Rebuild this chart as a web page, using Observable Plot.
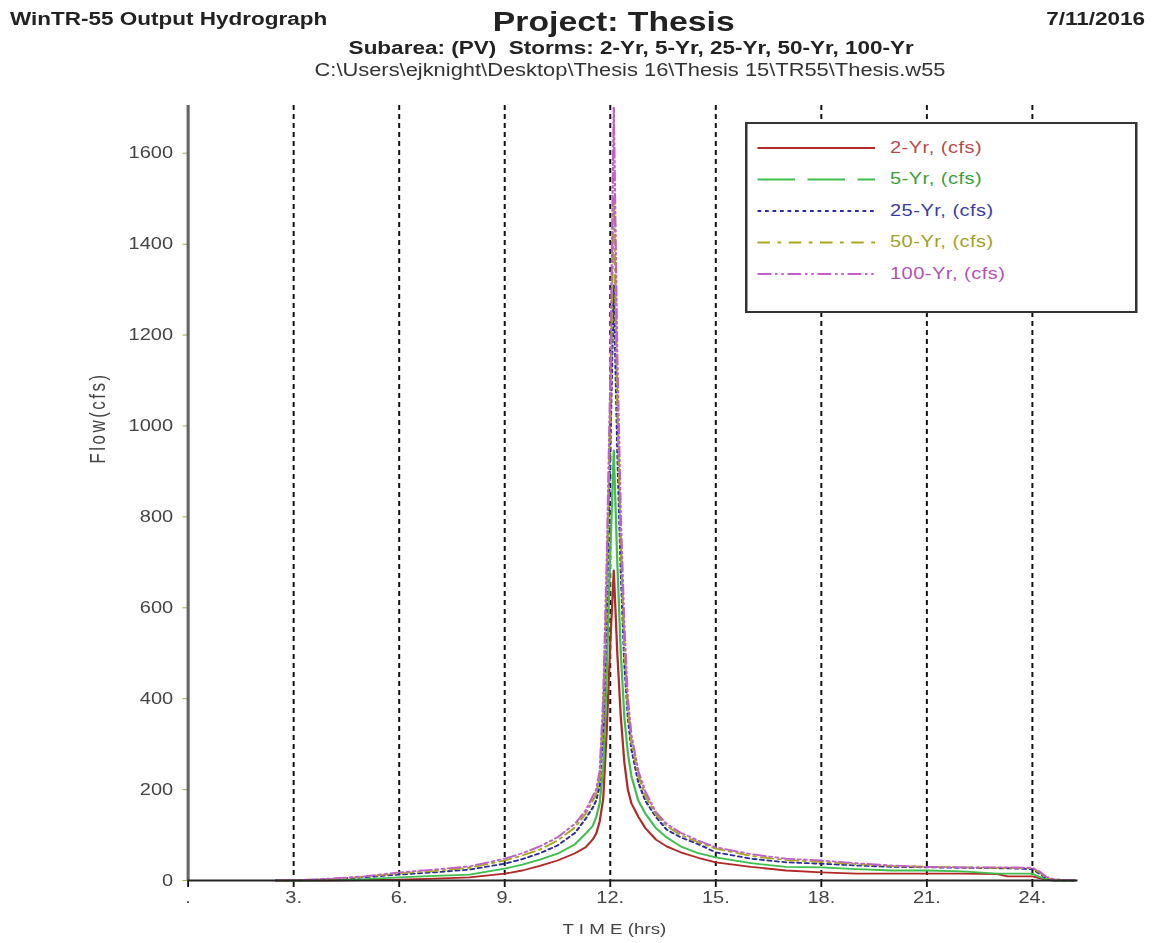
<!DOCTYPE html>
<html>
<head>
<meta charset="utf-8">
<script src="https://cdn.jsdelivr.net/npm/d3@7"></script>
<script src="https://cdn.jsdelivr.net/npm/@observablehq/plot@0.6"></script>
<style>
  html, body { margin: 0; padding: 0; background: #fff; overflow: hidden; }
  #wrap { position: relative; width: 925px; height: 943px; transform: scaleX(1.25); transform-origin: 0 0;
          font-family: "Liberation Sans", Arial, sans-serif; color: #222; }
  .h { position: absolute; white-space: nowrap; line-height: 1; }
  .c { transform: translateX(-50%); }
</style>
</head>
<body>
<div id="wrap">
  <div class="h" style="left:8px;top:10px;font-size:18px;font-weight:bold;">WinTR-55 Output Hydrograph</div>
  <div class="h c" style="left:491px;top:9px;font-size:27px;font-weight:bold;">Project: Thesis</div>
  <div class="h" style="right:9px;top:10px;font-size:18px;font-weight:bold;">7/11/2016</div>
  <div class="h c" style="left:505px;top:39px;font-size:18px;font-weight:bold;">Subarea: (PV)&nbsp;&nbsp;Storms: 2-Yr, 5-Yr, 25-Yr, 50-Yr, 100-Yr</div>
  <div class="h c" style="left:504px;top:62px;font-size:17.5px;color:#333;">C:\Users\ejknight\Desktop\Thesis 16\Thesis 15\TR55\Thesis.w55</div>
  <div id="chart" style="position:absolute;left:0;top:90px;"></div>
  <div id="legend" style="position:absolute;left:596px;top:122px;"></div>
</div>
<script>
// ---- data ----
const hours = [2.5,3,3.5,4, 5,6,7,8,9, 9.5,10,10.5,11,11.3, 11.5,11.6,11.7,11.8,11.9, 12.0,12.1,12.2,12.3,12.4, 12.5,12.6,12.8,13.0,13.3, 13.6,14.0,14.5,15,16, 17,18,19,20,21, 22,23,23.3,24,24.2, 24.4,24.6,25.2];
const q2   = [0,0,0,0, 1,2,4,7,15, 22,32,44,60,73, 90,103,130,180,330, 520,682,500,360,260, 200,170,140,115,90, 75,62,50,40,30, 22,18,15,15,15, 15,14,9,9,5, 2,0,0];
const q5   = [0,0,0,1, 3,7,10,13,26, 35,46,59,80,103, 120,139,170,250,450, 720,946,700,500,360, 280,230,175,147,115, 95,75,60,51,38, 30,29,25,22,22, 20,15,15,15,8, 3,0,0];
const q25  = [0,0,1,3, 7,13,18,24,37, 47,60,77,105,136, 160,176,210,340,600, 950,1310,950,680,480, 360,290,215,175,140, 112,95,80,62,48, 40,37,33,30,29, 28,27,27,25,15, 5,1,0];
const q50  = [0,0,2,3, 8,16,21,28,44, 55,68,88,117,147, 175,190,225,370,650, 1030,1500,1050,740,520, 380,305,230,185,145, 120,100,84,70,54, 45,41,36,32,30, 29,28,28,27,18, 6,2,0];
const q100 = [0,1,2,4, 9,18,24,31,48, 60,75,95,125,154, 185,200,240,400,700, 1100,1700,1150,800,560, 400,320,240,195,150, 125,105,88,73,58, 48,44,38,33,30, 29,29,29,28,20, 8,3,0];

const seriesNames = ["2-Yr, (cfs)", "5-Yr, (cfs)", "25-Yr, (cfs)", "50-Yr, (cfs)", "100-Yr, (cfs)"];
const seriesValues = [q2, q5, q25, q50, q100];
const lineColors = ["#b02a2a", "#3fbf4f", "#2c2c9c", "#a8a81c", "#c060c8"];
const textColors = ["#b84a4a", "#3a9e3a", "#3a3aa6", "#a0a028", "#b050b8"];
const plotDashes = [null, null, "3,3", "10,4,2,4", "10,3,2,3,2,3"];
const legendDashes = [null, "30,10", "3,3", "10,6,3,6", "11,3,2,3,2,3"];

const xTicks = [0, 3, 6, 9, 12, 15, 18, 21, 24];
const gridHours = [3, 6, 9, 12, 15, 18, 21, 24];
const yTicks = [0, 200, 400, 600, 800, 1000, 1200, 1400, 1600];

// ---- chart ----
const lineMarks = seriesValues.map((vals, i) =>
  Plot.line(hours.map((h, j) => ({hour: h, flow: vals[j]})), {
    x: "hour", y: "flow", stroke: lineColors[i], strokeWidth: 1.8,
    strokeDasharray: plotDashes[i] || undefined, curve: "linear"
  })
);

const chart = Plot.plot({
  width: 925,
  height: 853,
  marginLeft: 150,
  marginRight: 63,
  marginTop: 15,
  marginBottom: 63,
  style: {background: "white", fontFamily: "'Liberation Sans', Arial, sans-serif", fontSize: "16px", color: "#444"},
  x: {domain: [0, 25.3], axis: null},
  y: {domain: [0, 1705], axis: null},
  marks: [
    Plot.ruleX(gridHours, {stroke: "#111", strokeWidth: 1.6, strokeDasharray: "5,4"}),
    Plot.axisX({ticks: xTicks, tickSize: 7, tickPadding: 4, tickFormat: d => d === 0 ? "." : d + ".",
      stroke: "#111", strokeWidth: 1.5, fill: "#444", fontSize: 16, label: null}),
    Plot.axisY({ticks: yTicks, tickSize: 4, tickPadding: 8, tickFormat: d => String(d),
      stroke: "#a8a84a", fill: "#444", fontSize: 16, label: null}),
    ...lineMarks,
    Plot.ruleX([0], {stroke: "#666", strokeWidth: 2.5}),
    Plot.ruleY([0], {stroke: "#222", strokeWidth: 1.8}),
    Plot.text(["T I M E (hrs)"], {frameAnchor: "bottom", dx: -15, dy: 53, fontSize: 15, fill: "#444"}),
    Plot.text(["Flow(cfs)"], {frameAnchor: "left", textAnchor: "middle", dx: -72, dy: -75, rotate: -90, fontSize: 17, fill: "#444"})
  ]
});
document.getElementById("chart").appendChild(chart);
d3.select(chart).selectAll("text").filter(function() { return this.textContent === "Flow(cfs)"; })
  .attr("letter-spacing", "2.5px");

// ---- legend ----
const lw = 314, lh = 191;
const leg = d3.select("#legend").append("svg").attr("width", lw).attr("height", lh)
  .style("font-family", "'Liberation Sans', Arial, sans-serif");
leg.append("rect").attr("x", 1).attr("y", 1).attr("width", lw - 2).attr("height", lh - 2)
  .attr("fill", "white").attr("stroke", "#333").attr("stroke-width", 2);
seriesNames.forEach((name, i) => {
  const y = 26 + i * 31.5;
  leg.append("line").attr("x1", 10).attr("x2", 104).attr("y1", y).attr("y2", y)
    .attr("stroke", lineColors[i]).attr("stroke-width", 2)
    .attr("stroke-dasharray", legendDashes[i]);
  leg.append("text").attr("x", 116).attr("y", y + 5).text(name)
    .attr("fill", textColors[i]).attr("font-size", 16).attr("letter-spacing", "0.4px");
});
</script>
</body>
</html>
